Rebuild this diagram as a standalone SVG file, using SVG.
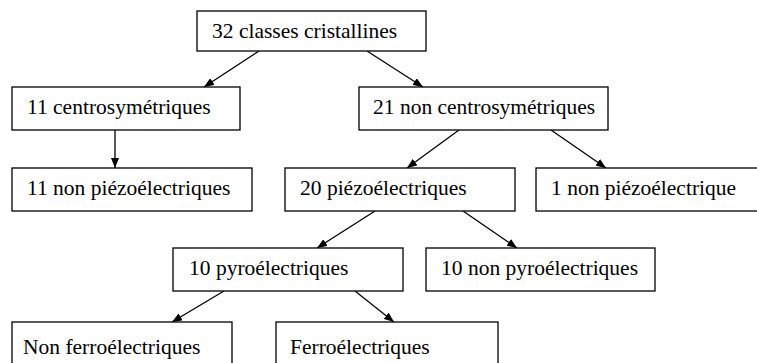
<svg xmlns="http://www.w3.org/2000/svg" width="757" height="363" viewBox="0 0 757 363">
<defs>
<marker id="ah" viewBox="0 0 10 8" refX="10" refY="4" markerWidth="10" markerHeight="8" markerUnits="userSpaceOnUse" orient="auto">
<path d="M0,0 L10,4 L0,8 Z" fill="#000"/>
</marker>
<style>
.box{fill:#fff;stroke:#000;stroke-width:1.3}
.t{font-family:"Liberation Serif","Times New Roman",serif;font-size:21.5px;fill:#000}
.c{stroke:#000;stroke-width:1.3;fill:none;marker-end:url(#ah)}
</style>
</defs>
<rect width="757" height="363" fill="#fff"/>
<g id="connectors">
<line class="c" x1="259" y1="51" x2="204" y2="87"/>
<line class="c" x1="367" y1="51" x2="423" y2="87"/>
<line class="c" x1="115" y1="130" x2="115" y2="168"/>
<line class="c" x1="459" y1="130" x2="407" y2="168"/>
<line class="c" x1="551" y1="130" x2="606" y2="168"/>
<line class="c" x1="375" y1="211" x2="317" y2="248"/>
<line class="c" x1="463" y1="211" x2="517" y2="248"/>
<line class="c" x1="224" y1="291" x2="172" y2="322"/>
<line class="c" x1="355" y1="291" x2="394" y2="322"/>
</g>
<g id="n1"><rect class="box" x="197" y="11" width="229" height="40"/><text class="t" x="212" y="38">32 classes cristallines</text></g>
<g id="n2"><rect class="box" x="12" y="87" width="228" height="43"/><text class="t" x="27" y="114">11 centrosymétriques</text></g>
<g id="n3"><rect class="box" x="359" y="87" width="249" height="43"/><text class="t" x="373" y="114">21 non centrosymétriques</text></g>
<g id="n4"><rect class="box" x="12" y="168" width="240" height="43"/><text class="t" x="27" y="195">11 non piézoélectriques</text></g>
<g id="n5"><rect class="box" x="285" y="168" width="230" height="43"/><text class="t" x="300" y="195">20 piézoélectriques</text></g>
<g id="n6"><rect class="box" x="536" y="168" width="230" height="43"/><text class="t" x="551" y="195">1 non piézoélectrique</text></g>
<g id="n7"><rect class="box" x="173" y="248" width="230" height="43"/><text class="t" x="189" y="275">10 pyroélectriques</text></g>
<g id="n8"><rect class="box" x="426" y="248" width="229" height="43"/><text class="t" x="441" y="275">10 non pyroélectriques</text></g>
<g id="n9"><rect class="box" x="12" y="322" width="220" height="50"/><text class="t" x="23" y="354">Non ferroélectriques</text></g>
<g id="n10"><rect class="box" x="276" y="322" width="222" height="50"/><text class="t" x="290" y="354">Ferroélectriques</text></g>
</svg>
